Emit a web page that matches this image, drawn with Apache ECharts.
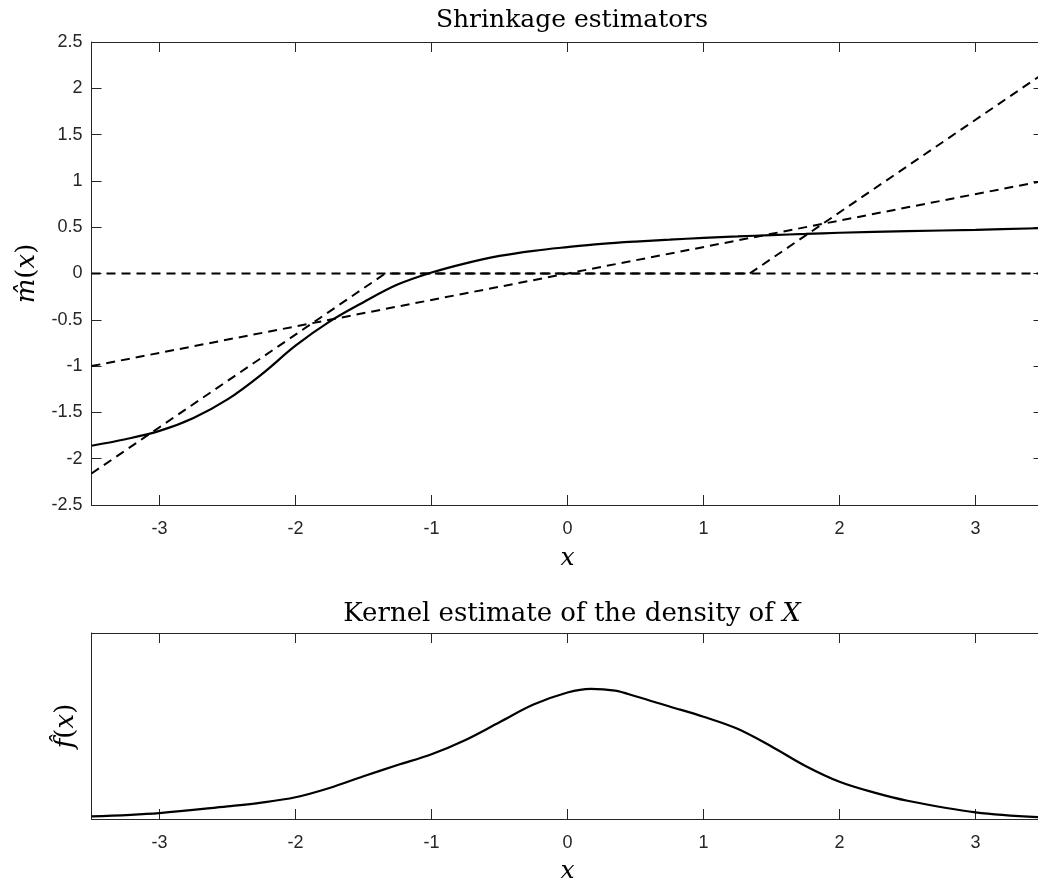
<!DOCTYPE html>
<html>
<head>
<meta charset="utf-8">
<script src="https://cdn.jsdelivr.net/npm/echarts@6/dist/echarts.min.js"></script>
<style>html,body{margin:0;padding:0;background:#fff}#c{width:1038px;height:884px}</style>
</head>
<body>
<div id="c"></div>
<script>
// ---- data ----
const xTicks = [-3, -2, -1, 0, 1, 2, 3];
const solidX = [-3.5,-3.25,-3.0,-2.75,-2.5,-2.25,-2.0,-1.75,-1.5,-1.25,-1.0,-0.75,-0.5,-0.25,0,0.25,0.5,0.75,1.0,1.25,1.5,1.75,2.0,2.5,3.0,3.5];
const solidY = [-1.86,-1.79,-1.70,-1.56,-1.36,-1.09,-0.78,-0.52,-0.31,-0.12,0.01,0.11,0.19,0.245,0.285,0.32,0.345,0.365,0.385,0.40,0.415,0.427,0.44,0.457,0.472,0.49];
const zeroX = [-3.5, 3.5];
const zeroY = [0, 0];
const linearX = [-3.5, 3.5];
const linearY = [-1.0, 1.0];
const softX = [-3.5, -1.34, 1.34, 3.5];
const softY = [-2.16, 0, 0, 2.16];
const densX = [-3.5,-3.0,-2.5,-2.25,-2.0,-1.75,-1.5,-1.25,-1.0,-0.75,-0.5,-0.25,0,0.17,0.35,0.5,0.75,1.0,1.25,1.5,1.75,2.0,2.25,2.5,3.0,3.5];
const densY = [0.014,0.032,0.068,0.088,0.117,0.167,0.23,0.29,0.348,0.425,0.52,0.615,0.68,0.70,0.69,0.66,0.605,0.55,0.485,0.39,0.285,0.20,0.143,0.098,0.036,0.008];

const zip = (a, b) => a.map((v, i) => [v, b[i]]);
const AX = '#262626';
const tickFont = {fontFamily: '"Liberation Sans", Arial, sans-serif', fontSize: 18, color: '#262626'};
const serif = '"DejaVu Serif", "Liberation Serif", serif';
const LF = 25;

function xAx(grid, pos, labels, name, nameGap) {
  return {
    type: 'value', gridIndex: grid, position: pos, min: -3.5, max: 3.5,
    axisLine: {show: true, onZero: false, lineStyle: {color: AX, width: 1}},
    axisTick: {show: true, inside: true, length: 10, customValues: xTicks, lineStyle: {color: AX}},
    axisLabel: Object.assign({show: labels, customValues: xTicks, margin: 15}, tickFont),
    splitLine: {show: false},
    name: name, nameLocation: 'middle', nameGap: nameGap,
    nameTextStyle: {fontFamily: serif, fontStyle: 'italic', fontSize: LF, color: '#000'}
  };
}

const chart = echarts.init(document.getElementById('c'), null, {renderer: 'canvas'});
const option = {
  animation: false,
  backgroundColor: '#fff',
  title: [
    {text: 'Shrinkage estimators', left: 567, top: 3, textAlign: 'center',
     textStyle: {fontFamily: serif, fontWeight: 'normal', fontSize: LF, color: '#000'}},
    {text: 'Kernel estimate of the density of {i|X}', left: 567, top: 596, textAlign: 'center',
     textStyle: {fontFamily: serif, fontWeight: 'normal', fontSize: 26, color: '#000',
       rich: {i: {fontFamily: serif, fontStyle: 'italic', fontSize: 26, color: '#000'}}}}
  ],
  grid: [
    {left: 91.5, top: 42, width: 952, height: 463, outerBoundsMode: 'none', containLabel: false},
    {left: 91.5, top: 633, width: 952, height: 186, outerBoundsMode: 'none', containLabel: false}
  ],
  xAxis: [
    xAx(0, 'bottom', true, 'x', 41),
    xAx(0, 'top', false, '', 0),
    xAx(1, 'bottom', true, 'x', 40),
    xAx(1, 'top', false, '', 0)
  ],
  yAxis: [
    {type: 'value', gridIndex: 0, position: 'left', min: -2.5, max: 2.5, interval: 0.5,
     axisLine: {show: true, onZero: false, lineStyle: {color: AX}},
     axisTick: {show: true, inside: true, length: 10, lineStyle: {color: AX}},
     axisLabel: Object.assign({margin: 9}, tickFont),
     splitLine: {show: false},
     name: '{h|m\u0302}{p|(}{h|x}{p|)}', nameLocation: 'middle', nameGap: 51, nameRotate: 90,
     nameTextStyle: {fontSize: LF, color: '#000',
       rich: {h: {fontFamily: serif, fontStyle: 'italic', fontSize: 26, color: '#000'},
              p: {fontFamily: serif, fontSize: 26, color: '#000'}}}},
    {type: 'value', gridIndex: 0, position: 'right', min: -2.5, max: 2.5, interval: 0.5,
     axisLine: {show: true, onZero: false, lineStyle: {color: AX}},
     axisTick: {show: true, inside: true, length: 10, lineStyle: {color: AX}},
     axisLabel: {show: false}, splitLine: {show: false}},
    {type: 'value', gridIndex: 1, position: 'left', min: 0, max: 1,
     axisLine: {show: true, onZero: false, lineStyle: {color: AX}},
     axisTick: {show: false}, axisLabel: {show: false}, splitLine: {show: false},
     name: '{h|f\u0302}{p|(}{h|x}{p|)}', nameLocation: 'middle', nameGap: 12, nameRotate: 90,
     nameTextStyle: {fontSize: LF, color: '#000',
       rich: {h: {fontFamily: serif, fontStyle: 'italic', fontSize: 26, color: '#000'},
              p: {fontFamily: serif, fontSize: 26, color: '#000'}}}},
    {type: 'value', gridIndex: 1, position: 'right', min: 0, max: 1,
     axisLine: {show: true, onZero: false, lineStyle: {color: AX}},
     axisTick: {show: false}, axisLabel: {show: false}, splitLine: {show: false}}
  ],
  series: [
    {type: 'line', xAxisIndex: 0, yAxisIndex: 0, data: zip(zeroX, zeroY), showSymbol: false,
     lineStyle: {color: '#000', width: 2, type: [9, 6]}},
    {type: 'line', xAxisIndex: 0, yAxisIndex: 0, data: zip(linearX, linearY), showSymbol: false,
     lineStyle: {color: '#000', width: 2, type: [9, 6]}},
    {type: 'line', xAxisIndex: 0, yAxisIndex: 0, data: zip(softX, softY), showSymbol: false,
     lineStyle: {color: '#000', width: 2, type: [9, 6]}},
    {type: 'line', xAxisIndex: 0, yAxisIndex: 0, data: zip(solidX, solidY), showSymbol: false,
     smooth: 0.35, lineStyle: {color: '#000', width: 2.2}},
    {type: 'line', xAxisIndex: 2, yAxisIndex: 2, data: zip(densX, densY), showSymbol: false,
     smooth: 0.35, lineStyle: {color: '#000', width: 2.2}}
  ]
};
chart.setOption(option);
</script>
</body>
</html>
